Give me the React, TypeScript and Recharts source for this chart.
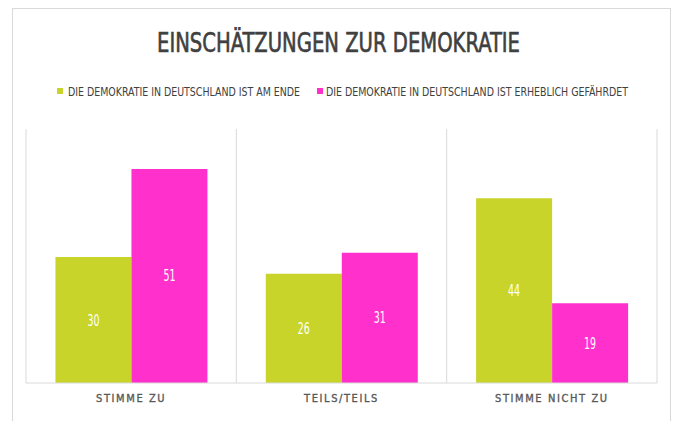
import React from "react";
import { BarChart, Bar, XAxis, YAxis, CartesianGrid, LabelList } from "recharts";

const categories = ["STIMME ZU", "TEILS/TEILS", "STIMME NICHT ZU"];
const seriesNames = [
  "DIE DEMOKRATIE IN DEUTSCHLAND IST AM ENDE",
  "DIE DEMOKRATIE IN DEUTSCHLAND IST ERHEBLICH GEFÄHRDET",
];
const amEnde = [30, 26, 44];
const gefaehrdet = [51, 31, 19];
const title = "EINSCHÄTZUNGEN ZUR DEMOKRATIE";

const GREEN = "#C8D42A";
const PINK = "#FF30CC";
const NARROW = "'DejaVu Sans Condensed', 'Liberation Sans Narrow', sans-serif";

const data = categories.map((c, i) => ({ cat: c, a: amEnde[i], b: gefaehrdet[i] }));

const gridGen = (props: any) => {
  const { xAxis, offset } = props;
  const s = xAxis?.scale;
  try {
    let f: any = null;
    if (typeof s === "function") f = s;
    else if (s && typeof s.map === "function") f = (v: any) => s.map(v);
    const bwFn = s && (typeof s.bandwidth === "function" ? () => s.bandwidth() : null);
    const dom = s && typeof s.domain === "function" ? s.domain() : null;
    if (f && bwFn && dom && dom.length) {
      const bw = bwFn();
      const pts = dom.map((c: any) => f(c));
      pts.push(f(dom[dom.length - 1]) + bw);
      if (pts.every((p: any) => typeof p === "number" && isFinite(p))) return pts;
    }
  } catch (e) {}
  const n = categories.length;
  return Array.from({ length: n + 1 }, (_, i) => offset.left + (i * offset.width) / n);
};

const ValueLabel = (props: any) => {
  const { x, y, width, height, value } = props;
  const cx = Number(x) + Number(width) / 2;
  const cy = Number(y) + Number(height) / 2;
  const s = String(value);
  return (
    <text x={cx} y={cy + 5.5} textAnchor="middle" fill="#ffffff" fontFamily={NARROW} fontSize={15}
      textLength={s.length * 6} lengthAdjust="spacingAndGlyphs">
      {s}
    </text>
  );
};

const CatTick = (props: any) => {
  const { x, y, payload } = props;
  return (
    <text x={x} y={y + 11} textAnchor="middle" fill="#595959" stroke="#595959" strokeWidth={0.35}
      fontFamily={NARROW} fontSize={11} letterSpacing={1.6}>
      {payload.value}
    </text>
  );
};

export default function App() {
  return (
    <div style={{ position: "absolute", left: 0, top: 0, width: 676, height: 421, background: "#fff", overflow: "hidden" }}>
      <div style={{ position: "absolute", left: 12, top: 8, width: 659, height: 440, border: "1px solid #d9d9d9", boxSizing: "border-box" }} />
      <svg style={{ position: "absolute", left: 0, top: 0 }} width={676} height={120}>
        <text x={157} y={52} fontFamily={NARROW} fontSize={26} fill="#404040" stroke="#404040" strokeWidth={0.6}
          textLength={363} lengthAdjust="spacingAndGlyphs">
          {title}
        </text>
        <rect x={57} y={88} width={6} height={6} fill={GREEN} />
        <text x={68} y={96} fontFamily={NARROW} fontSize={11.5} fill="#404040" textLength={232} lengthAdjust="spacingAndGlyphs">
          {seriesNames[0]}
        </text>
        <rect x={317} y={88} width={6} height={6} fill={PINK} />
        <text x={326} y={96} fontFamily={NARROW} fontSize={11.5} fill="#404040" textLength={302} lengthAdjust="spacingAndGlyphs">
          {seriesNames[1]}
        </text>
      </svg>
      <div style={{ position: "absolute", left: 0, top: 0 }}>
        <BarChart width={676} height={421} data={data} margin={{ top: 129, right: 19, left: 26, bottom: 0 }} barCategoryGap="14%" barGap={0}>
          <CartesianGrid horizontal={false} stroke="#d9d9d9" verticalCoordinatesGenerator={gridGen} />
          <XAxis
            dataKey="cat"
            height={38}
            axisLine={{ stroke: "#d9d9d9" }}
            tickLine={false}
            tick={<CatTick />}
          />
          <YAxis hide domain={[0, 60.5]} />
          <Bar dataKey="a" name={seriesNames[0]} fill={GREEN} isAnimationActive={false}>
            <LabelList dataKey="a" content={<ValueLabel />} />
          </Bar>
          <Bar dataKey="b" name={seriesNames[1]} fill={PINK} isAnimationActive={false}>
            <LabelList dataKey="b" content={<ValueLabel />} />
          </Bar>
        </BarChart>
      </div>
    </div>
  );
}
